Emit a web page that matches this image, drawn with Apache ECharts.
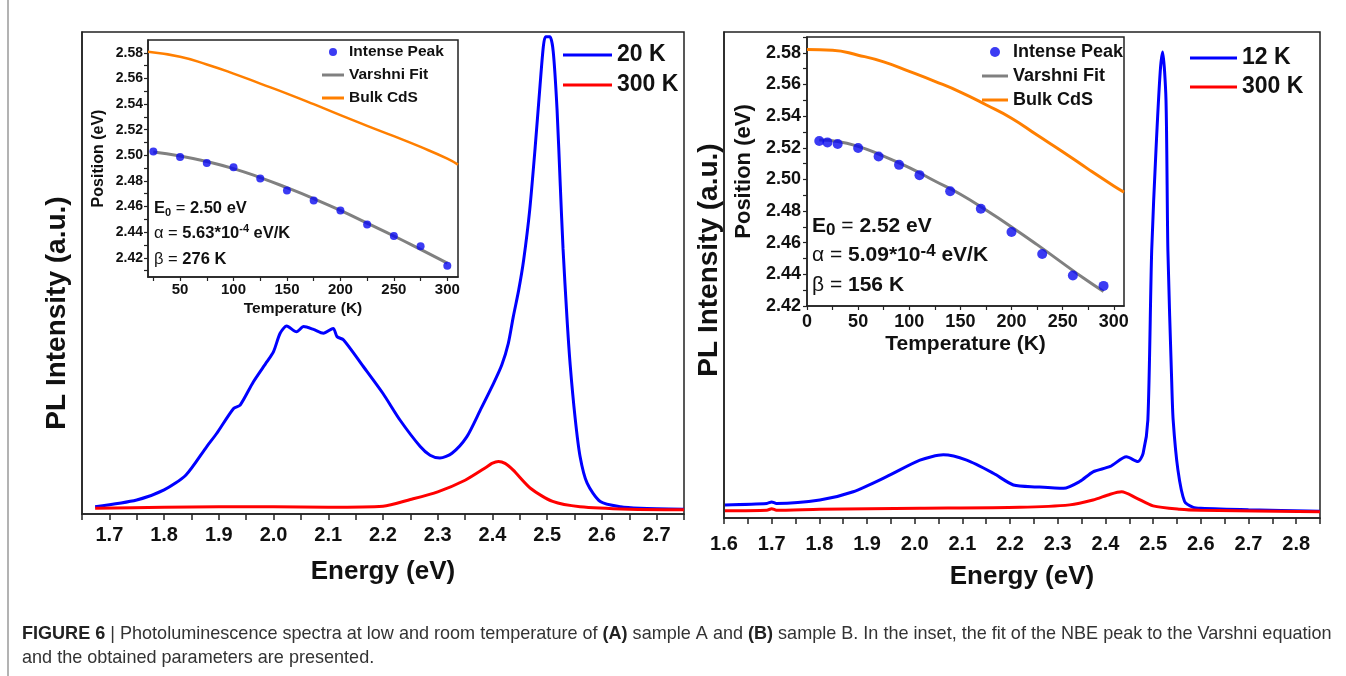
<!DOCTYPE html>
<html><head><meta charset="utf-8">
<script src="https://cdn.jsdelivr.net/npm/echarts/dist/echarts.min.js"></script>
<style>html,body{margin:0;padding:0;background:#fff}#c{width:1346px;height:676px}</style>
</head><body><div id="c"></div>
<script>
// ---------- Panel A (left) main spectra ----------
const energyA20 = [1.674,1.75,1.80,1.84,1.878,1.896,1.927,1.939,1.963,1.988,2.0,2.012,2.024,2.042,2.055,2.073,2.091,2.109,2.116,2.128,2.164,2.20,2.231,2.268,2.286,2.304,2.326,2.353,2.378,2.402,2.417,2.429,2.438,2.448,2.457,2.468,2.478,2.487,2.493,2.497,2.505,2.511,2.518,2.524,2.529,2.536,2.542,2.551,2.56,2.573,2.597,2.634,2.67,2.75];
const intensityA20 = [1.5,2.9,5.0,8.1,14.0,16.7,21.9,22.6,27.4,31.6,33.7,37.5,39.0,37.8,38.9,38.3,37.5,38.5,36.8,36.1,30.6,25.0,19.5,14.0,12.2,11.6,12.6,16.0,21.6,27.1,30.9,35.4,40.9,46.5,52.7,63,76,89,97,99,99,96,84,68,55,41,31,20,12,6.4,2.6,1.5,1.2,1.0];
const energyA300 = [1.674,1.8,1.9,2.0,2.1,2.2,2.25,2.3,2.35,2.39,2.399,2.411,2.423,2.438,2.47,2.51,2.56,2.65,2.75];
const intensityA300 = [1.2,1.4,1.5,1.5,1.4,1.6,3.0,4.6,7.0,9.8,10.5,10.9,10.5,9.1,5.3,2.6,1.5,1.0,0.9];
const energyTicksA = [1.65,1.70,1.75,1.80,1.85,1.90,1.95,2.00,2.05,2.10,2.15,2.20,2.25,2.30,2.35,2.40,2.45,2.50,2.55,2.60,2.65,2.70,2.75];
const energyLabelsA = [1.7,1.8,1.9,2.0,2.1,2.2,2.3,2.4,2.5,2.6,2.7];

// ---------- Panel B (right) main spectra ----------
const energyB12 = [1.602,1.69,1.70,1.71,1.801,1.871,1.941,2.011,2.06,2.109,2.165,2.207,2.256,2.312,2.346,2.374,2.41,2.444,2.468,2.479,2.489,2.497,2.506,2.515,2.520,2.527,2.531,2.539,2.542,2.552,2.566,2.584,2.6,2.7,2.85];
const intensityB12 = [2.7,3.0,3.3,3.0,3.7,5.4,8.5,11.9,13.0,11.9,9.2,6.8,6.4,6.1,7.5,9.5,10.6,12.6,11.6,13.3,20.2,55,75.7,92,95.9,86,55,28,20.2,9.9,3.4,2.2,2.0,1.7,1.4];
const energyB300 = [1.602,1.69,1.70,1.71,1.801,2.011,2.22,2.325,2.374,2.41,2.434,2.465,2.5,2.556,2.598,2.85];
const intensityB300 = [1.5,1.6,1.9,1.6,1.8,2.0,2.2,2.7,3.7,4.9,5.4,4.1,2.5,1.8,1.6,1.3];
const energyTicksB = [1.60,1.65,1.70,1.75,1.80,1.85,1.90,1.95,2.00,2.05,2.10,2.15,2.20,2.25,2.30,2.35,2.40,2.45,2.50,2.55,2.60,2.65,2.70,2.75,2.80,2.85];
const energyLabelsB = [1.6,1.7,1.8,1.9,2.0,2.1,2.2,2.3,2.4,2.5,2.6,2.7,2.8];

// ---------- Inset A ----------
const tempPeakA = [25,50,75,100,125,150,175,200,225,250,275,300];
const posPeakA = [2.503,2.4987,2.494,2.4906,2.4818,2.4726,2.4648,2.457,2.446,2.437,2.429,2.4137];
const tempFitA = [25,50,75,100,125,150,175,200,225,250,275,300];
const posFitA = [2.5026,2.4995,2.4952,2.4896,2.4826,2.4747,2.4662,2.4570,2.4470,2.4370,2.4265,2.4158];
const tempBulkA = [20,50,75,100,125,150,175,200,225,250,275,300,310];
const posBulkA = [2.5808,2.5769,2.5709,2.5638,2.556,2.5482,2.5399,2.5313,2.523,2.5149,2.5065,2.4974,2.4927];
const tempTicksA = [25,50,75,100,125,150,175,200,225,250,275,300];
const tempLabelsA = [50,100,150,200,250,300];
const posTicksA = [2.41,2.42,2.43,2.44,2.45,2.46,2.47,2.48,2.49,2.50,2.51,2.52,2.53,2.54,2.55,2.56,2.57,2.58];
const posLabelsA = [2.42,2.44,2.46,2.48,2.50,2.52,2.54,2.56,2.58];

// ---------- Inset B ----------
const tempPeakB = [12,20,30,50,70,90,110,140,170,200,230,260,290];
const posPeakB = [2.5243,2.5234,2.5224,2.5198,2.5145,2.5092,2.5027,2.4925,2.4815,2.4668,2.4529,2.4393,2.4327];
const tempFitB = [12,30,50,70,100,125,150,175,200,225,250,270,290];
const posFitB = [2.5249,2.5240,2.5209,2.516,2.5075,2.499,2.4906,2.4806,2.4700,2.4588,2.4471,2.4378,2.4291];
const tempBulkB = [0,25,50,75,100,125,150,175,200,225,250,275,300,310];
const posBulkB = [2.5821,2.5817,2.5785,2.5743,2.5683,2.562,2.5552,2.5472,2.5387,2.528,2.5175,2.5065,2.4959,2.492];
const tempTicksB = [0,25,50,75,100,125,150,175,200,225,250,275,300];
const tempLabelsB = [0,50,100,150,200,250,300];
const posTicksB = [2.42,2.43,2.44,2.45,2.46,2.47,2.48,2.49,2.50,2.51,2.52,2.53,2.54,2.55,2.56,2.57,2.58,2.59];
const posLabelsB = [2.42,2.44,2.46,2.48,2.50,2.52,2.54,2.56,2.58];

const zip = (a, b) => a.map((v, i) => [v, b[i]]);

const SANS = "'Liberation Sans', Arial, Helvetica, sans-serif";
const INK = '#111';
const AX = '#222';
const BLUE = '#0000ff', RED = '#ff0000', ORANGE = '#ff7f00', GRAY = '#808080', DOT = '#0a0af0';

function mainX(grid, min, max, ticks, labels, margin, gap) {
  return {
    gridIndex: grid, type: 'value', min: min, max: max,
    axisLine: {show: true, onZero: false, lineStyle: {color: AX, width: 1.5}},
    axisTick: {show: true, customValues: ticks, length: 6, inside: false, lineStyle: {color: AX, width: 1.5}},
    axisLabel: {customValues: labels, formatter: v => v.toFixed(1), margin: margin, fontSize: 20, fontWeight: 'bold', fontFamily: SANS, color: INK},
    splitLine: {show: false},
    name: 'Energy (eV)', nameLocation: 'middle', nameGap: gap,
    nameTextStyle: {fontSize: 26, fontWeight: 'bold', fontFamily: SANS, color: INK}
  };
}
function mainY(grid) {
  return {
    gridIndex: grid, type: 'value', min: 0, max: 100,
    axisLine: {show: true, onZero: false, lineStyle: {color: AX, width: 1.5}},
    axisTick: {show: false}, axisLabel: {show: false}, splitLine: {show: false}
  };
}
function insetX(grid, min, max, ticks, labels, fs, margin, nfs, gap) {
  return {
    gridIndex: grid, type: 'value', min: min, max: max,
    axisLine: {show: true, onZero: false, lineStyle: {color: AX, width: 1.5}},
    axisTick: {show: true, customValues: ticks, length: 4, lineStyle: {color: AX, width: 1.2}},
    axisLabel: {customValues: labels, formatter: v => String(v), margin: margin, fontSize: fs, fontWeight: 'bold', fontFamily: SANS, color: INK},
    splitLine: {show: false},
    name: 'Temperature (K)', nameLocation: 'middle', nameGap: gap,
    nameTextStyle: {fontSize: nfs, fontWeight: 'bold', fontFamily: SANS, color: INK}
  };
}
function insetY(grid, min, max, ticks, labels, fs, margin, nfs, gap) {
  return {
    gridIndex: grid, type: 'value', min: min, max: max,
    axisLine: {show: true, onZero: false, lineStyle: {color: AX, width: 1.5}},
    axisTick: {show: true, customValues: ticks, length: 4, lineStyle: {color: AX, width: 1.2}},
    axisLabel: {customValues: labels, formatter: v => v.toFixed(2), margin: margin, fontSize: fs, fontWeight: 'bold', fontFamily: SANS, color: INK},
    splitLine: {show: false},
    name: 'Position (eV)', nameLocation: 'middle', nameGap: gap,
    nameTextStyle: {fontSize: nfs, fontWeight: 'bold', fontFamily: SANS, color: INK}
  };
}
function spec(name, xi, data, color) {
  return {type: 'line', name: name, xAxisIndex: xi, yAxisIndex: xi, data: data,
    symbol: 'none', smooth: 0.25, color: color,
    itemStyle: {color: color}, lineStyle: {color: color, width: 3}, z: 3, silent: true, animation: false};
}
function fitLine(name, xi, data, color, w) {
  return {type: 'line', name: name, xAxisIndex: xi, yAxisIndex: xi, data: data,
    symbol: 'none', smooth: 0.5, color: color,
    itemStyle: {color: color}, lineStyle: {color: color, width: w}, z: 3, silent: true, animation: false};
}
function dots(xi, data, size) {
  return {type: 'scatter', name: 'Intense Peak', xAxisIndex: xi, yAxisIndex: xi, data: data,
    symbol: 'circle', symbolSize: size, color: DOT, itemStyle: {color: DOT}, z: 4, silent: true, animation: false};
}
const gridBase = {show: true, backgroundColor: 'transparent', borderColor: AX, borderWidth: 1.5, containLabel: false, outerBoundsMode: 'none'};
const lineIcon = w => 'path://M0,0H' + w + 'V3H0Z';

function annot(x, y0, step, fs, subFs, e0, alpha, beta) {
  const rich = {
    b: {fontFamily: SANS, fontWeight: 'bold', fontSize: fs, lineHeight: fs + 4, fill: INK},
    r: {fontFamily: SANS, fontWeight: 'normal', fontSize: fs, lineHeight: fs + 4, fill: INK},
    sub: {fontFamily: SANS, fontWeight: 'bold', fontSize: subFs, lineHeight: 8, verticalAlign: 'bottom', fill: INK},
    sup: {fontFamily: SANS, fontWeight: 'bold', fontSize: subFs, lineHeight: 8, verticalAlign: 'top', fill: INK}
  };
  return [
    {type: 'text', x: x, y: y0, z: 10, style: {text: '{b|E}{sub|0}{r| = }{b|' + e0 + ' eV}', rich: rich, verticalAlign: 'middle'}},
    {type: 'text', x: x, y: y0 + step, z: 10, style: {text: '{r|\u03b1 = }{b|' + alpha + '*10}{sup|-4}{b| eV/K}', rich: rich, verticalAlign: 'middle'}},
    {type: 'text', x: x, y: y0 + 2 * step, z: 10, style: {text: '{r|\u03b2 = }{b|' + beta + ' K}', rich: rich, verticalAlign: 'middle'}}
  ];
}

const chart = echarts.init(document.getElementById('c'), null, {renderer: 'canvas'});
chart.setOption({
  animation: false,
  backgroundColor: '#fff',
  grid: [
    Object.assign({left: 82, top: 32, width: 602, height: 482}, gridBase),
    Object.assign({left: 724, top: 32, width: 596, height: 486}, gridBase),
    Object.assign({left: 148, top: 40, width: 310, height: 237}, gridBase),
    Object.assign({left: 807, top: 37, width: 317, height: 269}, gridBase)
  ],
  xAxis: [
    mainX(0, 1.65, 2.75, energyTicksA, energyLabelsA, 11, 45),
    mainX(1, 1.6, 2.85, energyTicksB, energyLabelsB, 16, 46),
    insetX(2, 20, 310, tempTicksA, tempLabelsA, 15, 5, 15.5, 24),
    insetX(3, 0, 310, tempTicksB, tempLabelsB, 18, 7, 21, 28)
  ],
  yAxis: [
    mainY(0), mainY(1),
    insetY(2, 2.405, 2.59, posTicksA, posLabelsA, 14, 5, 16, 41),
    insetY(3, 2.42, 2.59, posTicksB, posLabelsB, 18, 6, 22, 52)
  ],
  legend: [
    {orient: 'vertical', left: 563, top: 43, padding: 0, itemGap: 6, itemWidth: 49, itemHeight: 3, icon: 'rect',
     selectedMode: false, data: ['20 K', '300 K'],
     textStyle: {fontFamily: SANS, fontWeight: 'bold', fontSize: 23, lineHeight: 24, color: INK}},
    {orient: 'vertical', left: 1190, top: 46, padding: 0, itemGap: 5, itemWidth: 47, itemHeight: 3, icon: 'rect',
     selectedMode: false, data: ['12 K', '300 K'],
     textStyle: {fontFamily: SANS, fontWeight: 'bold', fontSize: 23, lineHeight: 24, color: INK}},
    {orient: 'vertical', left: 322, top: 44, padding: 0, itemGap: 7, itemWidth: 22, itemHeight: 8,
     selectedMode: false,
     data: [{name: 'Intense Peak', icon: 'circle'}, {name: 'Varshni Fit', icon: lineIcon(22)}, {name: 'Bulk CdS', icon: lineIcon(22)}],
     textStyle: {fontFamily: SANS, fontWeight: 'bold', fontSize: 15.5, lineHeight: 14, color: INK}},
    {orient: 'vertical', left: 982, top: 43, padding: 0, itemGap: 6, itemWidth: 26, itemHeight: 10,
     selectedMode: false,
     data: [{name: 'Intense Peak', icon: 'circle'}, {name: 'Varshni Fit', icon: lineIcon(26)}, {name: 'Bulk CdS', icon: lineIcon(26)}],
     textStyle: {fontFamily: SANS, fontWeight: 'bold', fontSize: 18, lineHeight: 17, color: INK}}
  ],
  series: [
    spec('20 K', 0, zip(energyA20, intensityA20), BLUE),
    spec('300 K', 0, zip(energyA300, intensityA300), RED),
    spec('12 K', 1, zip(energyB12, intensityB12), BLUE),
    spec('300 K', 1, zip(energyB300, intensityB300), RED),
    dots(2, zip(tempPeakA, posPeakA), 8),
    fitLine('Varshni Fit', 2, zip(tempFitA, posFitA), GRAY, 3),
    fitLine('Bulk CdS', 2, zip(tempBulkA, posBulkA), ORANGE, 2.5),
    dots(3, zip(tempPeakB, posPeakB), 10),
    fitLine('Varshni Fit', 3, zip(tempFitB, posFitB), GRAY, 3),
    fitLine('Bulk CdS', 3, zip(tempBulkB, posBulkB), ORANGE, 3)
  ],
  graphic: [
    {type: 'line', shape: {x1: 8, y1: 0, x2: 8, y2: 676}, style: {stroke: '#9a9a9a', lineWidth: 1.5}},
    {type: 'text', x: 57, y: 313, rotation: Math.PI / 2, style: {text: 'PL Intensity (a.u.)', font: 'bold 28px ' + SANS, fill: INK, align: 'center', verticalAlign: 'middle'}},
    {type: 'text', x: 709, y: 260, rotation: Math.PI / 2, style: {text: 'PL Intensity (a.u.)', font: 'bold 28px ' + SANS, fill: INK, align: 'center', verticalAlign: 'middle'}},
    ...annot(154, 208, 25.5, 16.5, 11, '2.50', '5.63', '276'),
    ...annot(812, 226, 29.5, 21, 17, '2.52', '5.09', '156'),
    {type: 'text', x: 22, y: 634, scaleX: 0.95, style: {
      text: '{b|FIGURE 6} | Photoluminescence spectra at low and room temperature of {b|(A)} sample A and {b|(B)} sample B. In the inset, the fit of the NBE peak to the Varshni equation',
      font: '19px ' + SANS, fill: '#333', verticalAlign: 'middle',
      rich: {b: {fontFamily: SANS, fontSize: 19, fontWeight: 'bold', fill: '#222'}}}},
    {type: 'text', x: 22, y: 658, scaleX: 0.95, style: {text: 'and the obtained parameters are presented.', font: '19px ' + SANS, fill: '#333', verticalAlign: 'middle'}}
  ]
});
</script></body></html>
